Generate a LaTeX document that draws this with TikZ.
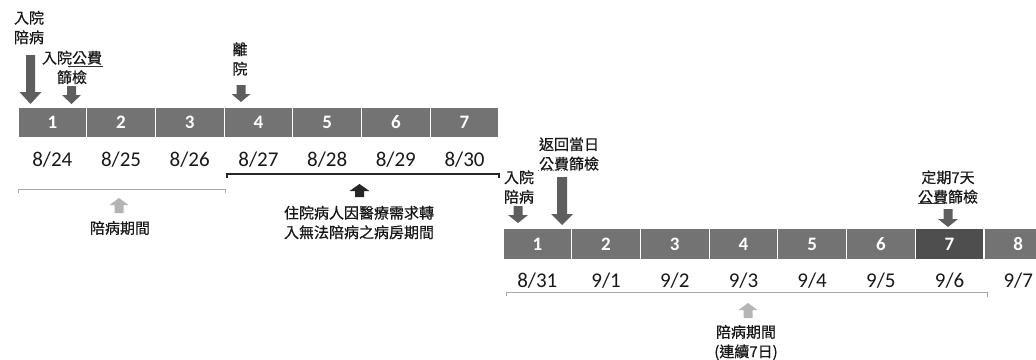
\documentclass[tikz,border=0pt]{standalone}
\usepackage{fontspec}
\newfontfamily\cjk[FakeBold=0.6]{Noto Sans CJK TC}
\newfontfamily\calib{Carlito}
\definecolor{boxgray}{HTML}{737373}
\definecolor{boxdark}{HTML}{4E4E4E}
\definecolor{arrgray}{HTML}{5E5E5E}
\definecolor{lightarr}{HTML}{B4B4B4}
\definecolor{brk}{HTML}{A8A8A8}
% down block arrow: x, ytop, ytip, shaft half, head half, head length, colour
\newcommand\darr[7]{\fill[#7] (#1-#4,#2) -- (#1+#4,#2) -- (#1+#4,#3-#6) -- (#1+#5,#3-#6) -- (#1,#3) -- (#1-#5,#3-#6) -- (#1-#4,#3-#6) -- cycle;}
% up block arrow: x, ybase, ytip, shaft half, head half, head length, colour
\newcommand\uarr[7]{\fill[#7] (#1-#4,#2) -- (#1+#4,#2) -- (#1+#4,#3+#6) -- (#1+#5,#3+#6) -- (#1,#3) -- (#1-#5,#3+#6) -- (#1-#4,#3+#6) -- cycle;}
\begin{document}
\begin{tikzpicture}[x=1pt,y=-1pt,
  day/.style={draw=white, line width=1.2pt, fill=boxgray, minimum width=68.7pt, minimum height=31pt, inner sep=0pt, text=white, font=\calib\bfseries\fontsize{19}{19}\selectfont},
  datelab/.style={font=\calib\fontsize{21}{21}\selectfont, text=black!90, inner sep=0pt},
  lab/.style={font=\cjk\fontsize{15}{19.5}\selectfont, align=center, inner sep=0pt, text=black!90}]
\useasboundingbox (0,0) rectangle (1036,359);
\fill[white] (0,0) rectangle (1036,359);
\clip (0,0) rectangle (1036,359);

% top row
\foreach \d [count=\i] in {8/24,8/25,8/26,8/27,8/28,8/29,8/30}{
  \node[day] (t\i) at ({18+68.7*(\i-0.5)},122.5) {\i};
  \node[datelab] (td\i) at ({18+68.7*(\i-0.5)},160) {\d};
}
% bottom row
\foreach \d [count=\i] in {8/31,9/1,9/2,9/3,9/4,9/5,9/6,9/7}{
  \node[day] (b\i) at ({503+68.7*(\i-0.5)},244) {\i};
  \node[datelab] (bd\i) at ({503+68.7*(\i-0.5)},281) {\d};
}
\node[day, fill=boxdark] at (b7) {7};

% top labels
\node[lab] (l1) at (29,27.5) {入院\\陪病};
\darr{30.5}{55}{104}{4.5}{11}{12}{arrgray}
\node[lab] (l2) at (72,67.5) {入院公費\\篩檢};
\draw[line width=0.9pt, black!80] (68,66.5) -- (103,66.5);
\darr{71.5}{86}{104}{4.5}{9.5}{9}{arrgray}
\node[lab] (l3) at (240,59) {離\\院};
\darr{241}{85}{102}{4.5}{9.5}{8}{arrgray}

% black bracket and label
\coordinate (bkl) at (227,174);
\coordinate (bkr) at (499,174);
\draw[line width=1.6pt, black!85] ([yshift=-4pt]bkl) -- (bkl) -- (bkr) -- ([yshift=-4pt]bkr);
\uarr{359.5}{197}{184}{4.5}{10}{7}{black!85}
\node[lab] (l4) at (359,222.5) {住院病人因醫療需求轉\\入無法陪病之病房期間};

% left grey bracket
\coordinate (gl1) at (18,189.5);
\coordinate (gr1) at (225,189.5);
\draw[line width=1pt, brk] ([yshift=-3pt]gl1) -- (gl1) -- (gr1) -- ([yshift=-3pt]gr1);
\uarr{119}{213}{198}{4.5}{9.5}{7}{lightarr}
\node[lab] (l5) at (120,228) {陪病期間};

% bottom labels
\node[lab] (l6) at (519,187) {入院\\陪病};
\darr{518}{206}{223}{4.5}{10}{8}{arrgray}
\node[lab] (l7) at (569,154) {返回當日\\公費篩檢};
\draw[line width=0.9pt, black!60, dotted] (538,170) -- (568,170);
\darr{562}{177}{225}{5}{11}{11}{arrgray}
\node[lab] (l8) at (948,187) {定期7天\\公費篩檢};
\draw[line width=0.9pt, black!80] (918,203) -- (945,203);
\darr{948}{209}{227}{4.5}{10}{8}{arrgray}

% bottom grey bracket
\coordinate (gl2) at (506,292.5);
\coordinate (gr2) at (987,292.5);
\draw[line width=1pt, brk] ([yshift=-3pt]gl2) -- (gl2) -- (gr2) -- ([yshift=-4pt]gr2);
\uarr{748}{318}{303}{4.5}{9.5}{7}{lightarr}
\node[lab] (l9) at (746,342.5) {陪病期間\\(連續7日)};
\end{tikzpicture}
\end{document}
